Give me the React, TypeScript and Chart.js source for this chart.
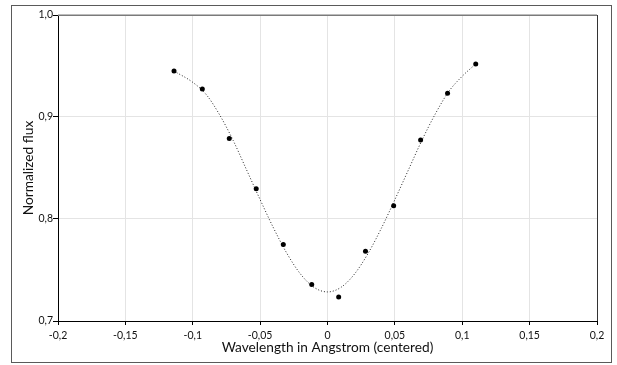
import React, { useEffect, useRef } from "react";
import { Chart, registerables } from "chart.js";

Chart.register(...registerables);

// Measured line-profile samples (wavelength offset in Å, normalized flux)
const sampleWavelength = [
  -0.1139, -0.0929, -0.0729, -0.0529, -0.0328, -0.0117,
  0.0083, 0.0282, 0.0491, 0.0691, 0.0891, 0.110,
];
const sampleFlux = [
  0.945, 0.9275, 0.879, 0.8296, 0.7750, 0.7358,
  0.7235, 0.7683, 0.813, 0.8775, 0.9232, 0.952,
];

// Fitted profile
const fitWavelength = [
  -0.1139, -0.10, -0.09, -0.08, -0.07, -0.06, -0.05, -0.04, -0.03, -0.02, -0.01,
  0.0, 0.01, 0.02, 0.03, 0.04, 0.05, 0.06, 0.07, 0.08, 0.09, 0.10, 0.110,
];
const fitFlux = [
  0.945, 0.934, 0.922, 0.902, 0.877, 0.848, 0.819, 0.791, 0.766, 0.746, 0.733,
  0.7285, 0.733, 0.746, 0.766, 0.791, 0.819, 0.848, 0.877, 0.903, 0.925, 0.940, 0.952,
];

const xTicks = { min: -0.2, max: 0.2, step: 0.05 };
const yTicks = { min: 0.7, max: 1.0, step: 0.1 };

const FONT = "Lato, 'Open Sans', sans-serif";
const commaDecimal = (v: number, digits: number) =>
  String(Number(v.toFixed(digits))).replace(".", ",");

// Frame around the plot area (top/right) and the outer border of the figure
const framePlugin = {
  id: "frame",
  afterDraw(chart: any) {
    const { ctx, chartArea } = chart;
    ctx.save();
    ctx.lineWidth = 1.5;
    ctx.strokeStyle = "#7a7a7a";
    ctx.beginPath();
    ctx.moveTo(chartArea.left, chartArea.top + 0.25);
    ctx.lineTo(chartArea.right, chartArea.top + 0.25);
    ctx.stroke();
    ctx.lineWidth = 1;
    ctx.strokeStyle = "#333";
    ctx.beginPath();
    ctx.moveTo(Math.round(chartArea.right) + 0.5, chartArea.top);
    ctx.lineTo(Math.round(chartArea.right) + 0.5, chartArea.bottom);
    ctx.stroke();
    ctx.strokeStyle = "#5a5a5a";
    ctx.strokeRect(11.5, 5.5, 600, 357);
    ctx.restore();
  },
};

export default function App() {
  const canvasRef = useRef<HTMLCanvasElement | null>(null);

  useEffect(() => {
    if (!canvasRef.current) return;
    const chart = new Chart(canvasRef.current, {
      type: "scatter",
      data: {
        datasets: [
          {
            label: "fit",
            data: fitWavelength.map((x, i) => ({ x, y: fitFlux[i] })),
            showLine: true,
            borderColor: "#222",
            borderWidth: 1,
            borderDash: [1, 2],
            pointRadius: 0,
            cubicInterpolationMode: "monotone",
            order: 2,
          },
          {
            label: "flux",
            data: sampleWavelength.map((x, i) => ({ x, y: sampleFlux[i] })),
            backgroundColor: "#000",
            borderColor: "#000",
            pointRadius: 2.5,
            borderWidth: 0,
            order: 1,
          },
        ],
      },
      options: {
        animation: false,
        responsive: false,
        devicePixelRatio: 1,
        layout: { padding: { top: 15, right: 20, bottom: 9, left: 0 } },
        plugins: { legend: { display: false }, tooltip: { enabled: false } },
        scales: {
          x: {
            type: "linear",
            min: xTicks.min,
            max: xTicks.max,
            afterFit: (s: any) => {
              s.height = 35;
            },
            ticks: {
              stepSize: xTicks.step,
              color: "#111",
              padding: 4,
              font: { family: FONT, size: 10.5 },
              callback: (v: any) => commaDecimal(Number(v), 2),
            },
            grid: { color: "#e4e4e4", tickColor: "#000", tickLength: 4 },
            border: { color: "#000", width: 1 },
            title: {
              display: true,
              text: "Wavelength in Angstrom (centered)",
              color: "#111",
              font: { family: FONT, size: 13.7 },
              padding: { top: 0, bottom: 0 },
            },
          },
          y: {
            type: "linear",
            min: yTicks.min,
            max: yTicks.max,
            afterFit: (s: any) => {
              s.width = 58;
            },
            ticks: {
              stepSize: yTicks.step,
              color: "#111",
              padding: 0,
              font: { family: FONT, size: 10.5 },
              callback: (v: any) => commaDecimal(Number(v), 1).replace(/^(\d)$/, "$1,0"),
            },
            grid: { color: "#e4e4e4", tickColor: "#000", tickLength: 5 },
            border: { color: "#000", width: 1 },
            title: {
              display: true,
              text: "Normalized flux",
              color: "#111",
              font: { family: FONT, size: 13.7 },
              padding: { top: 20, bottom: 0 },
            },
          },
        },
      },
      plugins: [framePlugin],
    });
    return () => chart.destroy();
  }, []);

  return (
    <div style={{ position: "absolute", left: 0, top: 0, width: 617, height: 365, background: "#fff" }}>
      <canvas ref={canvasRef} width={617} height={365} style={{ display: "block" }} />
    </div>
  );
}
